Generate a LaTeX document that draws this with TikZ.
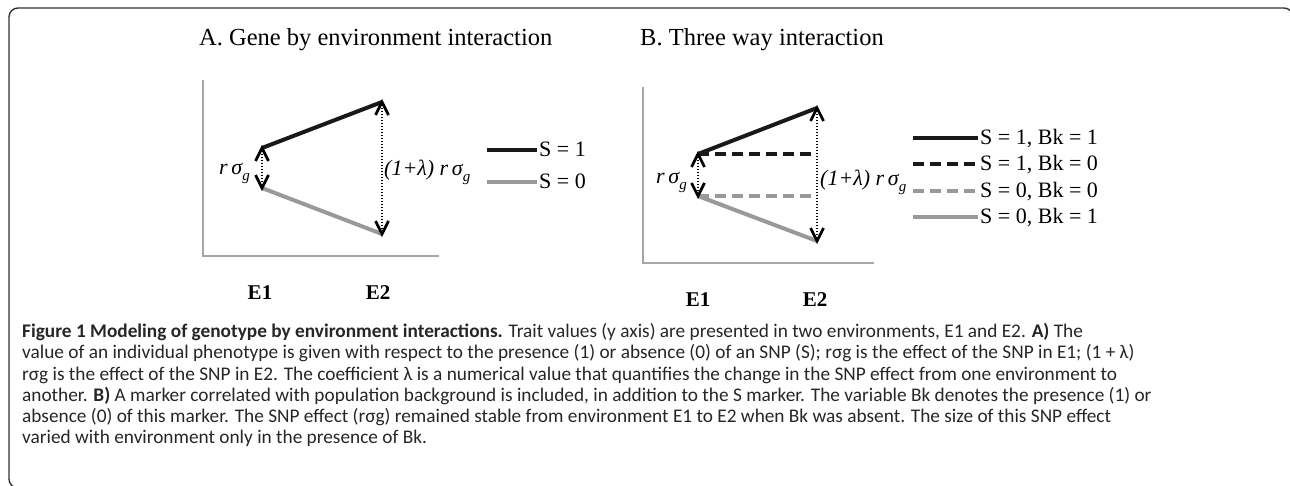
\documentclass[tikz,border=0pt]{standalone}
\usepackage{fontspec}
\setmainfont{Liberation Serif}
\newfontfamily\capfont{Carlito}
\usetikzlibrary{calc}
\newcommand\mysg{σ\raisebox{-0.25em}{\fontsize{15}{15}\selectfont g}}
\newcommand\headup[1]{\draw[arrhead] ($(#1)+(-6.5,13)$) -- (#1) -- ($(#1)+(6.5,13)$);}
\newcommand\headdown[1]{\draw[arrhead] ($(#1)+(-6.5,-13)$) -- (#1) -- ($(#1)+(6.5,-13)$);}
\begin{document}
\begin{tikzpicture}[x=1pt,y=-1pt,
 myframe/.style={draw=black!80, line width=1.4pt, rounded corners=9pt},
 myaxis/.style={draw=black!35, line width=1.2pt},
 sone/.style={line width=4pt, draw=black!90},
 szero/.style={line width=4pt, draw=black!40},
 dsh/.style={dash pattern=on 11pt off 6pt},
 dotline/.style={line width=1.6pt, dash pattern=on 1.4pt off 1.6pt, draw=black},
 arrhead/.style={line width=2.7pt, draw=black, line join=miter},
 ttl/.style={font=\fontsize{24.5}{28}\selectfont, inner sep=0, anchor=base west},
 lab/.style={font=\fontsize{22}{26}\selectfont\itshape, inner sep=0},
 leg/.style={font=\fontsize{22}{26}\selectfont, inner sep=0, anchor=base west},
 env/.style={font=\fontsize{21}{25}\selectfont\bfseries, inner sep=0},
 captxt/.style={font=\capfont\fontsize{19.3}{21}\selectfont, inner sep=0, anchor=base west, text=black!85},
]
\useasboundingbox (0,0) rectangle (1290,486);
% frame
\draw[myframe] (40,488) -- (9,488) -- (9,8) -- (1293,8) -- (1293,40);

% ---------- Panel A ----------
\node[ttl] (ta) at (199,46) {A. Gene by environment interaction};
\coordinate (ay0) at (203,80);
\coordinate (ao) at (203,256);
\coordinate (ax1) at (439,256);
\draw[myaxis] (ay0) -- (ao) -- (ax1);
\coordinate (a1) at (262,148);
\coordinate (a2) at (382,102);
\coordinate (a3) at (262,188);
\coordinate (a4) at (382,234);
\draw[sone] (a1) -- (a2);
\draw[szero] (a3) -- (a4);
\draw[dotline] (a1) -- (a3);
\draw[dotline] (a2) -- (a4);
\headup{a1} \headdown{a3} \headup{a2} \headdown{a4}
\node[lab, anchor=base east] (ra) at (250,175) {r\,\mysg};
\node[lab, anchor=base west] (la) at (384,176) {(1+λ) r\,\mysg};
\coordinate (lga1) at (487,150);
\coordinate (lga1e) at (537,150);
\coordinate (lga0) at (487,182);
\coordinate (lga0e) at (537,182);
\draw[sone] (lga1) -- (lga1e);
\draw[szero] (lga0) -- (lga0e);
\node[leg] (lta1) at (539,157) {S = 1};
\node[leg] (lta0) at (539,189) {S = 0};
\node[env] (ea1) at (260,293) {E1};
\node[env] (ea2) at (378,293) {E2};

% ---------- Panel B ----------
\node[ttl] (tb) at (640,46) {B. Three way interaction};
\coordinate (by0) at (643,87);
\coordinate (bo) at (643,263);
\coordinate (bx1) at (874,263);
\draw[myaxis] (by0) -- (bo) -- (bx1);
\coordinate (b1) at (698,154);
\coordinate (b2) at (817,108);
\coordinate (b3) at (698,196);
\coordinate (b4) at (817,241);
\coordinate (b5) at (817,154);
\coordinate (b6) at (817,196);
\draw[sone] (b1) -- (b2);
\draw[sone,dsh] (b1) -- (b5);
\draw[szero,dsh] (b3) -- (b6);
\draw[szero] (b3) -- (b4);
\draw[dotline] (b1) -- (b3);
\draw[dotline] (b2) -- (b4);
\headup{b1} \headdown{b3} \headup{b2} \headdown{b4}
\node[lab, anchor=base east] (rb) at (687,184) {r\,\mysg};
\node[lab, anchor=base west] (lb) at (820,186) {(1+λ) r\,\mysg};
\coordinate (l1) at (913,138) ; \coordinate (l1e) at (978,138);
\coordinate (l2) at (913,164) ; \coordinate (l2e) at (978,164);
\coordinate (l3) at (913,191) ; \coordinate (l3e) at (978,191);
\coordinate (l4) at (913,217) ; \coordinate (l4e) at (978,217);
\draw[sone] (l1) -- (l1e);
\draw[sone,dsh] (l2) -- (l2e);
\draw[szero,dsh] (l3) -- (l3e);
\draw[szero] (l4) -- (l4e);
\node[leg] (lt1) at (980,145) {S = 1, Bk = 1};
\node[leg] (lt2) at (980,171) {S = 1, Bk = 0};
\node[leg] (lt3) at (980,198) {S = 0, Bk = 0};
\node[leg] (lt4) at (980,224) {S = 0, Bk = 1};
\node[env] (eb1) at (698,300) {E1};
\node[env] (eb2) at (815,300) {E2};

% ---------- Caption ----------
\node[captxt] (c1) at (22,337) {\textbf{Figure 1 Modeling of genotype by environment interactions.} Trait values (y axis) are presented in two environments, E1 and E2. \textbf{A)} The};
\node[captxt] (c2) at (22,358) {value of an individual phenotype is given with respect to the presence (1) or absence (0) of an SNP (S); rσg is the effect of the SNP in E1; (1 + λ)};
\node[captxt] (c3) at (22,380) {rσg is the effect of the SNP in E2. The coefficient λ is a numerical value that quantifies the change in the SNP effect from one environment to};
\node[captxt] (c4) at (22,401) {another. \textbf{B)} A marker correlated with population background is included, in addition to the S marker. The variable Bk denotes the presence (1) or};
\node[captxt] (c5) at (22,422) {absence (0) of this marker. The SNP effect (rσg) remained stable from environment E1 to E2 when Bk was absent. The size of this SNP effect};
\node[captxt] (c6) at (22,443) {varied with environment only in the presence of Bk.};
\end{tikzpicture}
\end{document}
